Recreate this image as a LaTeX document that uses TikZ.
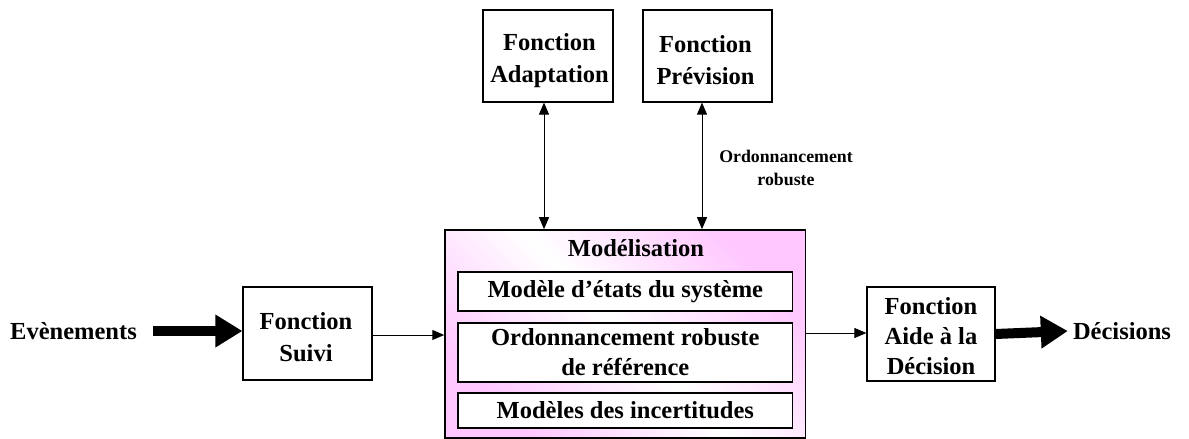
\documentclass[tikz,border=0pt]{standalone}
\usepackage{fontspec}
\setmainfont{Liberation Serif}
\usetikzlibrary{arrows.meta}
\definecolor{pinkish}{RGB}{255,198,255}
\tikzset{
  fbox/.style={draw=black, line width=1.2pt, fill=white, inner sep=0pt},
  ftext/.style={align=center, inner sep=0pt, font=\fontsize{24.5}{32}\selectfont\bfseries},
  inbox/.style={draw=black, line width=1.2pt, fill=white, align=center, inner sep=0pt,
    font=\fontsize{24.5}{30}\selectfont\bfseries},
  lbl/.style={align=center, inner sep=0pt, font=\fontsize{24.5}{30}\selectfont\bfseries},
  small/.style={align=center, inner sep=0pt, font=\fontsize{17.8}{23}\selectfont\bfseries},
  thin/.style={line width=1pt, -{Triangle[length=12pt,width=10pt]}},
  both/.style={line width=1pt, {Triangle[length=12pt,width=10pt]}-{Triangle[length=12pt,width=10pt]}},
  thick/.style={line width=10pt, -{Triangle[length=27pt,width=31pt]}}
}
\begin{document}
\begin{tikzpicture}[x=1pt,y=-1pt]
\useasboundingbox (0,0) rectangle (1189,439);
% Modelisation box
\node[draw=black, line width=1.6pt, minimum width=360.5pt, minimum height=208pt, inner sep=0pt,
  top color=pinkish, bottom color=pinkish, middle color=white, shading angle=-45] (model) at (625.3,334) {};
\node[lbl] (mtitle) at (636,248) {Modélisation};
\node[inbox, minimum width=334.5pt, minimum height=39pt] (etats) at (625.3,291.5) {Modèle d’états du système};
\node[inbox, minimum width=334.5pt, minimum height=59pt] (ordo) at (625.3,352.5) {Ordonnancement robuste\\de référence};
\node[inbox, minimum width=334.5pt, minimum height=35pt] (incert) at (625.3,410.5) {Modèles des incertitudes};
% top boxes
\node[fbox, minimum width=130pt, minimum height=92pt] (adapt) at (548,56) {};
\node[ftext] (adaptT) at (549.5,60.5) {Fonction\\Adaptation};
\node[fbox, minimum width=129pt, minimum height=92pt] (prev) at (707.5,56) {};
\node[ftext] (prevT) at (705.5,60.5) {Fonction\\Prévision};
\node[small] (olbl) at (786,168) {Ordonnancement\\robuste};
% side boxes
\node[fbox, minimum width=129pt, minimum height=93pt] (suivi) at (307.5,333.5) {};
\node[ftext] (suiviT) at (306,337) {Fonction\\Suivi};
\node[fbox, minimum width=128pt, minimum height=94pt] (aide) at (931,334) {};
\node[ftext, font=\fontsize{24.5}{30}\selectfont\bfseries] (aideT) at (931,336) {Fonction\\Aide à la\\Décision};
\node[lbl] (evt) at (73.5,331) {Evènements};
\node[lbl] (dec) at (1122,331) {Décisions};
% connectors
\draw[both] ([xshift=-4pt]adapt.south) -- ([xshift=-4pt]adapt.south |- model.north);
\draw[both] ([xshift=-5.5pt]prev.south) -- ([xshift=-5.5pt]prev.south |- model.north);
\draw[thin] ([yshift=-1.5pt]suivi.east) -- ([yshift=-1.5pt]suivi.east -| model.west);
\draw[thin] ([yshift=1pt]model.east) -- ([yshift=1pt]model.east -| aide.west);
\draw[thick] ([xshift=16pt]evt.east) -- (evt.east -| suivi.west);
\draw[thick] (aide.east) -- ([xshift=-5pt]dec.west);
\end{tikzpicture}
\end{document}
